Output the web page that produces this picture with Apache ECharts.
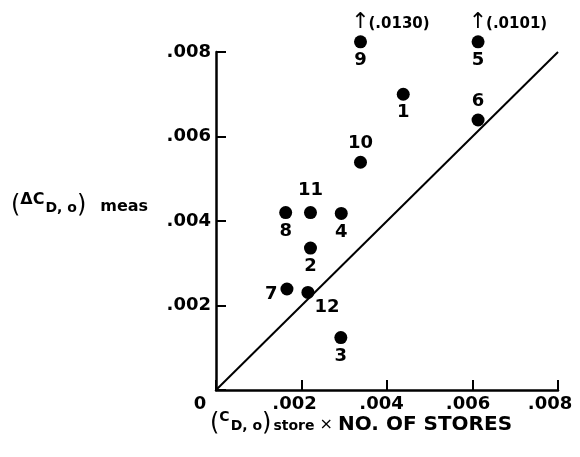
<!DOCTYPE html>
<html>
<head>
<meta charset="utf-8">
<script src="https://cdn.jsdelivr.net/npm/echarts@6/dist/echarts.min.js"></script>
<style>
html,body{margin:0;padding:0;background:#fff;}
#chart{width:580px;height:457px;}
</style>
</head>
<body>
<div id="chart"></div>
<script>
// ---- data ----
const pointIds = ['1','2','3','4','5','6','7','8','9','10','11','12'];
const xValues  = [0.00438, 0.00221, 0.00292, 0.00293, 0.00613, 0.00613, 0.00166, 0.00163, 0.00338, 0.00338, 0.00221, 0.00215];
const yValues  = [0.00700, 0.00336, 0.00124, 0.00418, 0.00824, 0.00639, 0.00239, 0.00420, 0.00824, 0.00539, 0.00420, 0.00231];
const offscaleIds   = ['9', '5'];
const offscaleTexts = ['(.0130)', '(.0101)'];
const lineX = [0, 0.008];
const lineY = [0, 0.008];
const xTickValues = [0, 0.002, 0.004, 0.006, 0.008];
const xTickLabels = ['0', '.002', '.004', '.006', '.008'];
const yTickValues = [0, 0.002, 0.004, 0.006, 0.008];
const yTickLabels = ['', '.002', '.004', '.006', '.008'];

// ---- styling ----
const FONT = 'DejaVu Sans';
const xLabelShiftPad = [32, 14, 11, 9, 16]; // right padding to nudge labels left like the original
const labelPlacement = {
  '1': {position: 'bottom', offset: [0, 0]},
  '2': {position: 'bottom', offset: [0, 0]},
  '3': {position: 'bottom', offset: [0, 0]},
  '4': {position: 'bottom', offset: [0, 0]},
  '5': {position: 'bottom', offset: [0, 0]},
  '6': {position: 'top', offset: [0, 0]},
  '7': {position: 'left', offset: [0, 5]},
  '8': {position: 'bottom', offset: [0, 0]},
  '9': {position: 'bottom', offset: [0, 0]},
  '10': {position: 'top', offset: [0, 0]},
  '11': {position: 'top', offset: [0, -4]},
  '12': {position: 'right', offset: [-3, 15]}
};

const xRich = {};
xLabelShiftPad.forEach((p, i) => {
  xRich['x' + i] = {fontSize: 18, fontWeight: 'bold', fontFamily: FONT, color: '#000', padding: [0, p, 0, 0]};
});

function xFmt(v) {
  for (let i = 0; i < xTickValues.length; i++) {
    if (Math.abs(xTickValues[i] - v) < 1e-9) return '{x' + i + '|' + xTickLabels[i] + '}';
  }
  return '';
}
function yFmt(v) {
  for (let i = 0; i < yTickValues.length; i++) {
    if (Math.abs(yTickValues[i] - v) < 1e-9) return yTickLabels[i];
  }
  return '';
}

const pointData = pointIds.map((id, i) => ({
  value: [xValues[i], yValues[i]],
  name: id,
  label: Object.assign({}, labelPlacement[id])
}));

const annData = offscaleIds.map((id, i) => {
  const k = pointIds.indexOf(id);
  return {value: [xValues[k], yValues[k]], name: offscaleTexts[i]};
});

const chart = echarts.init(document.getElementById('chart'), null, {renderer: 'canvas'});
chart.setOption({
  backgroundColor: '#fff',
  animation: false,
  grid: {left: 216, right: 22, top: 52, bottom: 67, containLabel: false, outerBoundsMode: 'none'},
  xAxis: {
    type: 'value', min: 0, max: 0.008, interval: 0.002,
    axisLine: {lineStyle: {color: '#000', width: 2.5}},
    axisTick: {inside: true, length: 10, lineStyle: {color: '#000', width: 2}},
    splitLine: {show: false},
    axisLabel: {
      color: '#000', fontSize: 18, fontWeight: 'bold', fontFamily: FONT, margin: 5,
      formatter: xFmt, rich: xRich
    }
  },
  yAxis: {
    type: 'value', min: 0, max: 0.008, interval: 0.002,
    axisLine: {lineStyle: {color: '#000', width: 2.5}},
    axisTick: {inside: true, length: 10, lineStyle: {color: '#000', width: 2}},
    splitLine: {show: false},
    axisLabel: {
      color: '#000', fontSize: 18, fontWeight: 'bold', fontFamily: FONT, margin: 5,
      formatter: yFmt
    }
  },
  graphic: [
    {
      type: 'text', left: 11, top: 192,
      style: {
        text: '{p|(}{sup|ΔC}{sub|D, o}{p|)}{t|meas}',
        fill: '#000',
        rich: {
          p: {fontSize: 24, fontFamily: FONT, lineHeight: 26, verticalAlign: 'bottom'},
          sup: {fontSize: 16, fontWeight: 'bold', fontFamily: FONT, lineHeight: 16, verticalAlign: 'top'},
          sub: {fontSize: 14, fontWeight: 'bold', fontFamily: FONT, lineHeight: 14, verticalAlign: 'bottom', padding: [0, 0, 3, 1]},
          t: {fontSize: 16, fontWeight: 'bold', fontFamily: FONT, lineHeight: 16, verticalAlign: 'bottom', padding: [0, 0, 3, 14]}
        }
      }
    },
    {
      type: 'text', left: 210, top: 410,
      style: {
        text: '{p|(}{sup|C}{sub|D, o}{p|)}{s|store}{m| × }{t|NO. OF STORES}',
        fill: '#000',
        rich: {
          p: {fontSize: 24, fontFamily: FONT, lineHeight: 26, verticalAlign: 'bottom'},
          sup: {fontSize: 14, fontWeight: 'bold', fontFamily: FONT, lineHeight: 14, verticalAlign: 'top'},
          sub: {fontSize: 14, fontWeight: 'bold', fontFamily: FONT, lineHeight: 14, verticalAlign: 'bottom', padding: [0, 0, 3, 1]},
          s: {fontSize: 14, fontWeight: 'bold', fontFamily: FONT, lineHeight: 14, verticalAlign: 'bottom', padding: [0, 0, 3, 2]},
          m: {fontSize: 16, fontFamily: FONT, lineHeight: 16, verticalAlign: 'bottom', padding: [0, 0, 3, 0]},
          t: {fontSize: 20, fontWeight: 'bold', fontFamily: FONT, lineHeight: 20, verticalAlign: 'bottom', padding: [0, 0, 1, 0]}
        }
      }
    }
  ],
  series: [
    {
      type: 'line',
      data: lineX.map((x, i) => [x, lineY[i]]),
      symbol: 'none', silent: true,
      lineStyle: {color: '#000', width: 2},
      z: 1
    },
    {
      type: 'scatter',
      data: pointData,
      symbol: 'circle', symbolSize: 13, clip: false,
      itemStyle: {color: '#000', opacity: 1},
      label: {
        show: true, formatter: '{b}', color: '#000', fontSize: 18, fontWeight: 'bold', fontFamily: FONT, distance: 3
      },
      z: 3
    },
    {
      type: 'scatter',
      data: annData,
      symbol: 'circle', symbolSize: 13, clip: false, silent: true,
      itemStyle: {color: 'rgba(0,0,0,0)', opacity: 1},
      label: {
        show: true, position: 'top', distance: 2,
        formatter: '↑', color: '#000', fontSize: 22, fontFamily: FONT
      },
      z: 4
    },
    {
      type: 'scatter',
      data: annData,
      symbol: 'circle', symbolSize: 13, clip: false, silent: true,
      itemStyle: {color: 'rgba(0,0,0,0)', opacity: 1},
      label: {
        show: true, position: 'top', distance: 4, align: 'left', offset: [8, 0],
        formatter: '{b}', color: '#000', fontSize: 15, fontWeight: 'bold', fontFamily: FONT
      },
      z: 4
    }
  ]
});
</script>
</body>
</html>
